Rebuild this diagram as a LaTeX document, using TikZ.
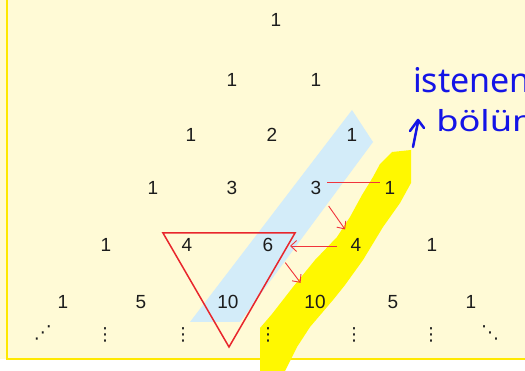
\documentclass[tikz,border=0pt]{standalone}
\usepackage{fontspec}
\setmainfont{Liberation Sans}
\newfontfamily\handfont{Noto Sans}
\newfontfamily\symfont{DejaVu Sans}
\usetikzlibrary{arrows.meta}
\definecolor{cream}{HTML}{FFFAD6}
\definecolor{borderyellow}{HTML}{FFE800}
\definecolor{hiyellow}{HTML}{FFF800}
\definecolor{bandblue}{HTML}{D3ECF9}
\definecolor{trired}{HTML}{E8262C}
\definecolor{arrred}{HTML}{F0343C}
\definecolor{numgray}{HTML}{1C1C1C}
\definecolor{penblue}{HTML}{1414E6}
\begin{document}
\begin{tikzpicture}[x=1pt,y=-1pt,
  num/.style={font=\fontsize{19}{19}\selectfont, text=numgray, inner sep=1pt},
  dotsym/.style={font=\symfont\fontsize{18}{18}\selectfont, text=numgray, inner sep=0pt},
  hand/.style={font=\handfont, text=penblue, inner sep=0pt, anchor=base west},
  redarrow/.style={draw=arrred, line width=0.9pt, -{Straight Barb[length=6pt,width=11pt]}},
  redline/.style={draw=arrred, line width=0.9pt}]
\useasboundingbox (0,0) rectangle (525,371);
\clip (0,0) rectangle (525,371);
\fill[white] (0,0) rectangle (525,371);
\fill[cream] (0,0) rectangle (525,359);
\draw[borderyellow, line width=2pt] (7,-5) -- (7,359) -- (530,359);
% blue band
\fill[bandblue] (352,110) -- (373,142) -- (240,322) -- (190,322) -- cycle;
% yellow highlighter
\fill[hiyellow] (392,152) -- (411,150) -- (411,183) -- (400,203) -- (383,227) -- (363,260)
  -- (345,285) -- (333,300) -- (310,327) -- (297,347) -- (285,371) -- (260,371)
  -- (260,328) -- (272,314) -- (293,287) -- (315,260) -- (337,237) -- (350,217)
  -- (362,195) -- (373,177) -- (380,164) -- cycle;
% red triangle
\draw[trired, line width=1.5pt, line join=miter] (163,233) -- (295,233) -- (229,347) -- cycle;
% numbers
\node[num] (r0c0) at (276,20) {1};
\node[num] (r1c0) at (232,80) {1};
\node[num] (r1c1) at (316,80) {1};
\node[num] (r2c0) at (191,135) {1};
\node[num] (r2c1) at (272,135) {2};
\node[num] (r2c2) at (352,135) {1};
\node[num] (r3c0) at (153,188) {1};
\node[num] (r3c1) at (232,188) {3};
\node[num] (r3c2) at (316,188) {3};
\node[num] (r3c3) at (390,188) {1};
\node[num] (r4c0) at (106,245) {1};
\node[num] (r4c1) at (187,245) {4};
\node[num] (r4c2) at (268,245) {6};
\node[num] (r4c3) at (356,245) {4};
\node[num] (r4c4) at (432,245) {1};
\node[num] (r5c0) at (63,302) {1};
\node[num] (r5c1) at (141,302) {5};
\node[num] (r5c2) at (228,302) {10};
\node[num] (r5c3) at (315,302) {10};
\node[num] (r5c4) at (393,302) {5};
\node[num] (r5c5) at (471,302) {1};
% dots
\node[dotsym] (d0) at (43,333) {⋰};
\node[dotsym] (d1) at (105,335) {⋮};
\node[dotsym] (d2) at (183,335) {⋮};
\node[dotsym] (d3) at (268,335) {⋮};
\node[dotsym] (d4) at (354,335) {⋮};
\node[dotsym] (d5) at (431,335) {⋮};
\node[dotsym] (d6) at (490,333) {⋱};
% red arrows
\draw[redline, shorten <=11pt, shorten >=10pt] ([yshift=6pt]r3c2.center) -- ([yshift=6pt]r3c3.center);
\draw[redarrow, shorten <=22pt, shorten >=19pt] (r3c2.center) -- (r4c3.center);
\draw[redarrow, shorten <=19pt, shorten >=22pt] ([yshift=-1pt]r4c3.center) -- ([yshift=-1pt]r4c2.center);
\draw[redarrow, shorten <=22pt, shorten >=24pt] ([xshift=4pt]r4c2.center) -- (r5c3.center);
% handwritten note
\node[hand, font=\handfont\fontsize{34}{34}\selectfont] (note1) at (413,93) {istenen};
\node[hand, font=\handfont\fontsize{29}{29}\selectfont, xscale=1.25, transform shape] (note2) at (436,132) {bölüm};
\draw[penblue, line width=2.5pt, line cap=round, line join=round] (413,147) -- (418,122);
\draw[penblue, line width=2.5pt, line cap=round, line join=round] (410,131) -- (418,120) -- (424,128);
\end{tikzpicture}
\end{document}
